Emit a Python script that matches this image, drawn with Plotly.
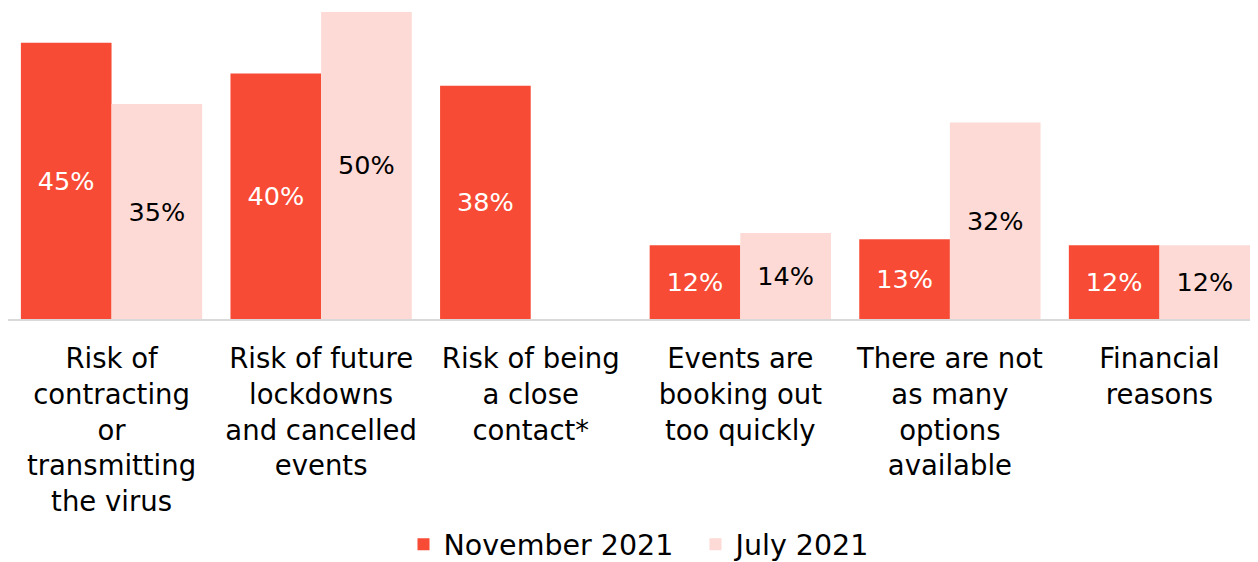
import plotly.graph_objects as go

categories = [
    "Risk of<br>contracting<br>or<br>transmitting<br>the virus",
    "Risk of future<br>lockdowns<br>and cancelled<br>events",
    "Risk of being<br>a close<br>contact*",
    "Events are<br>booking out<br>too quickly",
    "There are not<br>as many<br>options<br>available",
    "Financial<br>reasons",
]
nov_2021 = [45, 40, 38, 12, 13, 12]
jul_2021 = [35, 50, None, 14, 32, 12]

FONT = "DejaVu Sans"

fig = go.Figure()
fig.add_trace(go.Bar(
    name="November 2021", x=categories, y=nov_2021,
    marker=dict(color="#F84B35", line=dict(width=0)),
    text=[f"{v}%" for v in nov_2021], textposition="inside",
    insidetextanchor="middle", textangle=0,
    textfont=dict(color="white", size=25.5, family=FONT),
))
fig.add_trace(go.Bar(
    name="July 2021", x=categories, y=jul_2021,
    marker=dict(color="#FDDAD5", line=dict(width=0)),
    text=[f"{v}%" if v is not None else "" for v in jul_2021], textposition="inside",
    insidetextanchor="middle", textangle=0,
    textfont=dict(color="black", size=25.5, family=FONT),
))

fig.update_layout(
    width=1250, height=554,
    margin=dict(l=0, r=0, t=0, b=243),
    paper_bgcolor="white", plot_bgcolor="white",
    barmode="group", bargap=0.135, bargroupgap=0,
    font=dict(family=FONT, size=27, color="black"),
    uniformtext=dict(mode="show", minsize=10),
    legend=dict(orientation="h", xref="container", yref="container",
                x=0.55, xanchor="center", y=0.031, yanchor="middle",
                font=dict(size=28.5, family=FONT), itemwidth=30,
                entrywidth=247, entrywidthmode="pixels",
                traceorder="normal"),
    showlegend=True,
)
fig.update_xaxes(
    range=[-0.494, 5.47], showline=True, linecolor="#D9D9D9", linewidth=2,
    ticks="", tickangle=0, tickfont=dict(size=27.5, family=FONT, color="black"),
    ticklabelstandoff=14, showgrid=False,
)
fig.update_yaxes(range=[0, 50.65], visible=False, showgrid=False, zeroline=False)

fig.write_html("out.html")
